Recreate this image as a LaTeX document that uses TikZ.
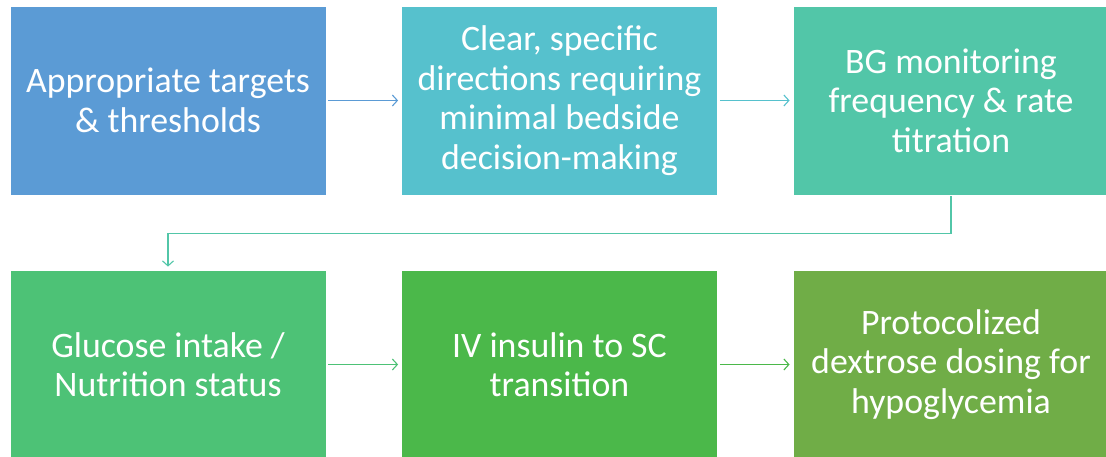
\documentclass[tikz,border=0pt]{standalone}
\usepackage{fontspec}
\setmainfont{Carlito}
\usetikzlibrary{arrows.meta}
\definecolor{c1}{HTML}{5B9BD5}
\definecolor{c2}{HTML}{56C1CD}
\definecolor{c3}{HTML}{52C6A8}
\definecolor{c4}{HTML}{4DC276}
\definecolor{c5}{HTML}{4BB84A}
\definecolor{c6}{HTML}{70AD47}
\tikzset{
  box/.style={draw=white, line width=0.8pt, minimum width=316pt, minimum height=189pt,
    inner sep=0pt, text=white, align=center,
    font=\fontsize{35.8}{39.5}\selectfont},
  conn/.style={line width=1.1pt, -{Straight Barb[length=5pt,width=11pt]}, shorten >=3pt, shorten <=2pt}
}
\begin{document}
\begin{tikzpicture}[x=1pt,y=-1pt]
\useasboundingbox (0,0) rectangle (1106,456);
\clip (0,0) rectangle (1106,456);
\node[box, fill=c1] (b1) at (168,100.5) {Appropriate targets\\\& thresholds};
\node[box, fill=c2] (b2) at (559.5,100.5) {Clear, specific\\directions requiring\\minimal bedside\\decision-making};
\node[box, fill=c3] (b3) at (951,100.5) {BG monitoring\\frequency \& rate\\titration};
\node[box, fill=c4] (b4) at (168,364.5) {Glucose intake /\\Nutrition status};
\node[box, fill=c5] (b5) at (559.5,364.5) {IV insulin to SC\\transition};
\node[box, fill=c6] (b6) at (951,364.5) {Protocolized\\dextrose dosing for\\hypoglycemia};
\draw[conn, c1] (b1) -- (b2);
\draw[conn, c2] (b2) -- (b3);
\draw[conn, c3, shorten <=1pt] (b3.south) -- ++(0,38) coordinate (k) -| (b4.north);
\draw[conn, c4] (b4) -- (b5);
\draw[conn, c5] (b5) -- (b6);
\end{tikzpicture}
\end{document}
